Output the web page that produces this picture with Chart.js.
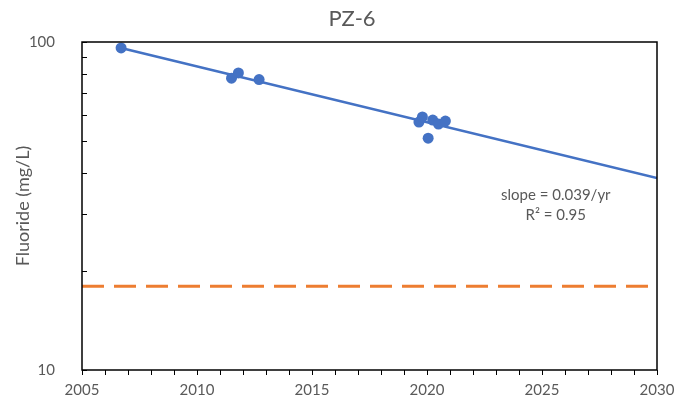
<!DOCTYPE html>
<html>
<head>
<meta charset="utf-8">
<script src="https://cdn.jsdelivr.net/npm/chart.js@4.4.0/dist/chart.umd.min.js"></script>
<style>
  html, body { margin: 0; padding: 0; background: #fff; }
  #wrap { width: 674px; height: 408px; }
</style>
</head>
<body>
<div id="wrap"><canvas id="pzChart"></canvas></div>
<script>
// measured fluoride samples
var years = [2006.7, 2011.5, 2011.8, 2012.7, 2019.65, 2019.8, 2020.05, 2020.25, 2020.5, 2020.8];
var fluoride = [95.9, 77.6, 80.5, 76.8, 57.0, 59.1, 50.9, 57.8, 56.2, 57.4];

// exponential trend (straight on log axis)
var trendYears = [2006.7, 2030];
var trendValues = [95.9, 38.5];

// standard / limit line
var limitYears = [2005, 2030];
var limitValue = 18;

var xTicks = [2005, 2010, 2015, 2020, 2025, 2030];
var yTicks = [10, 20, 30, 40, 50, 60, 70, 80, 90, 100];
var yLabels = [10, 100];
var chartTitle = 'PZ-6';
var noteLines = ['slope = 0.039/yr', 'R\u00B2 = 0.95'];

var grey = '#595959';
var font = 'Lato, "Liberation Sans", sans-serif';

function toPts(xs, ys) {
    return xs.map(function (x, i) { return { x: x, y: ys[i] }; });
}

// title, frame, inward y ticks and the fit note
var extras = {
    id: 'extras',
    afterDatasetsDraw: function (chart) {
        var c = chart.ctx, a = chart.chartArea, y = chart.scales.y;
        c.save();
        c.strokeStyle = '#000';
        c.lineWidth = 1;
        y.ticks.forEach(function (t) {
            var py = Math.round(y.getPixelForValue(t.value)) + 0.5;
            c.beginPath();
            c.moveTo(a.left, py);
            c.lineTo(a.left + 5, py);
            c.stroke();
        });
        c.lineWidth = 1.5;
        c.strokeRect(a.left, a.top, a.right - a.left, a.bottom - a.top);

        c.fillStyle = grey;
        c.textAlign = 'center';
        c.textBaseline = 'middle';
        c.font = '22px ' + font;
        c.fillText(chartTitle, 352, 19);

        c.font = '15px ' + font;
        var cx = chart.scales.x.getPixelForValue(2025.6);
        c.fillText(noteLines[0], cx, a.top + 153);
        c.fillText(noteLines[1], cx, a.top + 173);
        c.restore();
    }
};

var ctx = document.getElementById('pzChart').getContext('2d');
var myChart = new Chart(ctx, {
    type: 'scatter',
    data: {
        datasets: [
            {
                label: 'Limit',
                type: 'line',
                data: toPts(limitYears, [limitValue, limitValue]),
                borderColor: '#ED7D31',
                borderWidth: 3,
                borderDash: [22, 10],
                pointRadius: 0,
                order: 3
            },
            {
                label: 'Trend',
                type: 'line',
                data: toPts(trendYears, trendValues),
                borderColor: '#4472C4',
                borderWidth: 2.5,
                pointRadius: 0,
                order: 2
            },
            {
                label: 'Fluoride',
                data: toPts(years, fluoride),
                backgroundColor: '#4472C4',
                borderWidth: 0,
                pointRadius: 5.5,
                order: 1
            }
        ]
    },
    options: {
        responsive: true,
        maintainAspectRatio: false,
        animation: false,
        layout: { padding: { left: 0, right: 17, top: 42, bottom: 0 } },
        plugins: {
            legend: { display: false },
            tooltip: { enabled: false },
            title: { display: false }
        },
        scales: {
            x: {
                type: 'linear',
                min: 2005,
                max: 2030,
                afterFit: function (s) {
                    s.height = 38;
                    s.paddingLeft = 0;
                    s.paddingRight = 0;
                },
                afterBuildTicks: function (s) {
                    var t = [];
                    for (var v = 2005; v <= 2030; v++) t.push({ value: v });
                    s.ticks = t;
                },
                ticks: {
                    autoSkip: false,
                    maxRotation: 0,
                    padding: 6,
                    color: grey,
                    font: { family: font, size: 15 },
                    callback: function (v) { return xTicks.indexOf(v) >= 0 ? String(v) : ''; }
                },
                grid: { drawOnChartArea: false, tickLength: 5, tickColor: '#000', color: '#000' },
                border: { display: false }
            },
            y: {
                type: 'logarithmic',
                min: 10,
                max: 100,
                afterFit: function (s) {
                    s.width = 82;
                    s.paddingTop = 0;
                    s.paddingBottom = 0;
                },
                afterBuildTicks: function (s) {
                    s.ticks = yTicks.map(function (v) { return { value: v }; });
                },
                ticks: {
                    padding: 19,
                    color: grey,
                    font: { family: font, size: 15 },
                    callback: function (v) { return yLabels.indexOf(v) >= 0 ? String(v) : ''; }
                },
                grid: { display: false },
                border: { display: false },
                title: {
                    display: true,
                    text: 'Fluoride (mg/L)',
                    color: grey,
                    font: { family: font, size: 18 },
                    padding: { top: 12, bottom: 0 }
                }
            }
        }
    },
    plugins: [extras]
});
</script>
</body>
</html>
